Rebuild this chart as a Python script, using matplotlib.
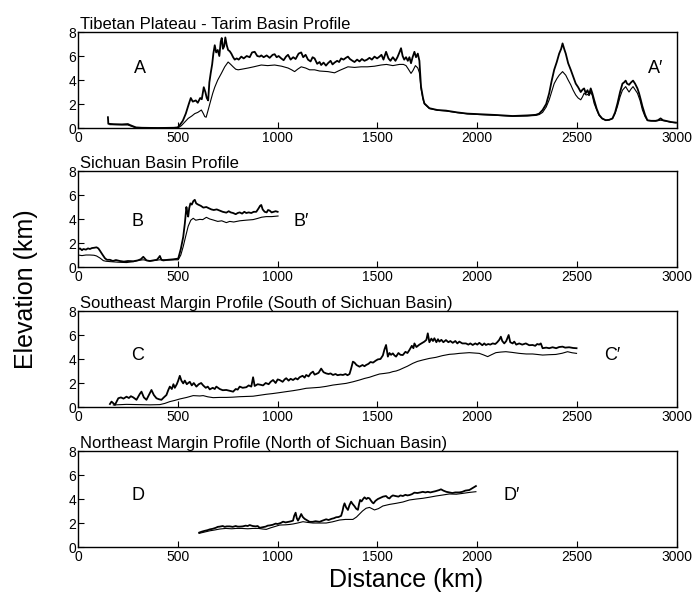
import matplotlib
matplotlib.use("Agg")
import matplotlib.pyplot as plt

plt.rcParams['font.family'] = ['Liberation Sans', 'DejaVu Sans']

# Profile A-A' (Tibetan Plateau - Tarim Basin)
a_max_dist = [150, 152, 180, 220, 250, 260, 275, 290, 320, 400, 480, 500, 510, 525, 540, 555,
              565, 575, 590, 600, 612, 620, 630, 638, 645, 652, 658, 665, 672, 678, 685, 692,
              700, 708, 715, 720, 726, 732, 738, 745, 752, 760, 768, 777, 785, 795, 805, 818,
              830, 845, 860, 872, 885, 898, 910, 918, 930, 945, 960, 975, 985, 995, 1005, 1018,
              1030, 1042, 1052, 1065, 1078, 1090, 1105, 1118, 1128, 1140, 1152, 1165, 1175, 1185,
              1198, 1210, 1218, 1230, 1242, 1252, 1265, 1275, 1285, 1298, 1308, 1318, 1330, 1342,
              1352, 1362, 1375, 1385, 1398, 1410, 1422, 1435, 1448, 1460, 1472, 1485, 1498, 1510,
              1520, 1530, 1543, 1555, 1565, 1577, 1590, 1600, 1610, 1618, 1626, 1634, 1643, 1652,
              1660, 1668, 1676, 1685, 1693, 1702, 1710, 1718, 1728, 1735, 1760, 1800, 1843, 1900,
              1950, 2010, 2100, 2177, 2250, 2293, 2310, 2327, 2345, 2360, 2372, 2385, 2398, 2410,
              2420, 2427, 2435, 2443, 2455, 2468, 2480, 2493, 2505, 2518, 2527, 2535, 2543, 2552,
              2560, 2568, 2576, 2585, 2598, 2610, 2625, 2643, 2660, 2677, 2690, 2702, 2715, 2727,
              2735, 2743, 2750, 2760, 2770, 2780, 2790, 2802, 2810, 2818, 2827, 2840, 2852, 2870,
              2893, 2905, 2918, 2930, 2943, 2970, 2995]
a_max_elev = [0.9, 0.35, 0.32, 0.3, 0.33, 0.25, 0.15, 0.05, 0.02, 0.0, 0.02, 0.05, 0.25, 0.6, 1.2, 2.0,
              2.5, 2.2, 2.3, 2.1, 2.5, 2.4, 3.4, 3.0, 2.5, 2.3, 3.8, 4.6, 5.3, 6.2, 6.9, 6.3,
              6.5, 6.0, 7.2, 7.5, 6.6, 6.8, 7.55, 6.9, 6.5, 6.4, 6.2, 5.9, 5.7, 5.8, 5.7, 5.95,
              5.8, 6.0, 5.9, 6.3, 6.35, 6.0, 5.95, 6.05, 5.9, 6.05, 5.85, 6.1, 6.15, 5.9, 6.0, 5.8,
              5.65, 5.95, 6.1, 5.7, 5.9, 5.75, 6.2, 6.3, 5.9, 6.1, 5.7, 5.55, 5.9, 5.8,
              5.35, 5.5, 5.25, 5.45, 5.2, 5.4, 5.6, 5.3, 5.45, 5.6, 5.5, 5.8, 5.7, 5.85,
              5.95, 5.75, 5.6, 5.5, 5.7, 5.55, 5.75, 5.6, 5.7, 5.85, 5.7, 5.95, 5.8, 5.95,
              6.1, 5.7, 6.35, 5.8, 5.6, 5.9, 5.6, 5.9, 6.3, 6.65, 6.0, 5.7, 5.9, 5.6,
              5.9, 5.4, 5.9, 6.35, 5.9, 6.2, 5.6, 3.45, 2.5, 2.05, 1.65, 1.5, 1.45, 1.3,
              1.2, 1.15, 1.08, 1.0, 1.05, 1.1, 1.2, 1.5, 2.0, 2.9, 3.9, 4.85, 5.5, 6.2,
              6.6, 7.05, 6.6, 6.2, 5.4, 4.85, 4.3, 3.7, 3.4, 3.0, 3.2, 3.3, 2.9, 3.15,
              2.8, 3.3, 2.9, 2.35, 1.6, 1.1, 0.8, 0.65, 0.68, 0.8, 1.3, 2.05, 3.0, 3.7,
              3.8, 3.95, 3.7, 3.6, 3.8, 3.95, 3.7, 3.3, 2.9, 2.4, 1.8, 1.1, 0.65, 0.6,
              0.6, 0.65, 0.8, 0.65, 0.6, 0.5, 0.45]
a_mean_dist = [160, 250, 280, 300, 500, 518, 535, 552, 570, 585, 600, 618, 628, 635, 642, 652,
               665, 675, 685, 700, 718, 735, 752, 765, 777, 790, 802, 820, 852, 880, 918, 950,
               985, 1020, 1052, 1070, 1085, 1100, 1118, 1140, 1160, 1185, 1210, 1252, 1285, 1310,
               1352, 1385, 1418, 1450, 1485, 1518, 1545, 1577, 1610, 1630, 1643, 1655, 1668, 1678,
               1690, 1702, 1710, 1718, 1728, 1735, 1760, 1800, 1843, 1900, 1950, 2010, 2100, 2177,
               2250, 2293, 2310, 2327, 2345, 2360, 2372, 2385, 2398, 2410, 2427, 2443, 2455, 2468,
               2480, 2493, 2505, 2518, 2527, 2535, 2545, 2552, 2560, 2568, 2576, 2585, 2598, 2610,
               2625, 2643, 2660, 2677, 2690, 2702, 2715, 2727, 2743, 2752, 2760, 2770, 2780, 2790,
               2802, 2815, 2827, 2840, 2852, 2893, 2918, 2943, 2970, 2995]
a_mean_elev = [0.28, 0.25, 0.08, 0.0, 0.0, 0.2, 0.5, 0.8, 1.0, 1.2, 1.3, 1.5, 1.2, 0.95, 0.9, 1.5,
               2.3, 2.9, 3.4, 4.0, 4.55, 5.1, 5.5, 5.3, 5.1, 4.9, 4.85, 4.9, 5.0, 5.1, 5.25, 5.2,
               5.25, 5.15, 5.0, 4.85, 4.7, 4.9, 5.1, 5.0, 4.85, 4.85, 4.75, 4.7, 4.6, 4.8,
               5.1, 5.05, 5.1, 5.1, 5.15, 5.25, 5.3, 5.2, 5.3, 5.3, 5.2, 4.9, 4.55, 4.8,
               5.2, 5.0, 4.6, 3.3, 2.4, 2.0, 1.62, 1.48, 1.42, 1.28, 1.18, 1.12, 1.05, 0.98,
               1.0, 1.05, 1.12, 1.3, 1.75, 2.35, 3.0, 3.7, 4.1, 4.4, 4.7, 4.4, 4.0, 3.6,
               3.15, 2.75, 2.5, 2.35, 2.6, 2.9, 2.75, 2.8, 2.7, 3.0, 2.7, 2.05, 1.5, 1.05,
               0.78, 0.65, 0.67, 0.78, 1.2, 1.8, 2.6, 3.15, 3.45, 3.2, 3.0, 3.25, 3.45, 3.2,
               2.9, 2.3, 1.5, 0.95, 0.62, 0.58, 0.65, 0.58, 0.48, 0.43]

# Profile B-B' (Sichuan Basin)
b_max_dist = [0, 10, 20, 27, 40, 50, 60, 70, 80, 93, 102, 110, 120, 135, 145, 160, 175, 190, 210,
              230, 250, 277, 300, 315, 327, 335, 343, 360, 377, 395, 405, 410, 418, 427, 450, 477,
              502, 515, 527, 535, 543, 548, 552, 557, 563, 570, 578, 585, 592, 602, 615, 628, 643,
              655, 668, 680, 695, 710, 725, 743, 755, 765, 777, 790, 800, 810, 822, 833, 843, 855,
              868, 880, 893, 905, 912, 918, 925, 935, 945, 952, 960, 970, 980, 990, 1000]
b_max_elev = [1.47, 1.55, 1.4, 1.5, 1.45, 1.55, 1.5, 1.58, 1.6, 1.64, 1.55, 1.36, 1.1, 0.73, 0.6, 0.6,
              0.5, 0.58, 0.5, 0.45, 0.5, 0.48, 0.55, 0.65, 0.85, 0.7, 0.55, 0.5, 0.55, 0.6, 0.8, 0.92,
              0.6, 0.55, 0.6, 0.64, 0.7, 1.5, 2.5, 3.6, 5.0, 4.5, 4.2, 4.9, 5.3, 5.2, 5.5, 5.6, 5.3,
              5.2, 5.1, 4.95, 5.0, 4.9, 4.8, 4.75, 4.8, 4.7, 4.6, 4.53, 4.65, 4.55, 4.5, 4.4, 4.5,
              4.55, 4.45, 4.6, 4.5, 4.55, 4.5, 4.6, 4.6, 4.9, 5.1, 5.17, 4.8, 4.6, 4.55, 4.75, 4.7,
              4.55, 4.6, 4.65, 4.6]
b_mean_dist = [0, 20, 40, 60, 80, 93, 110, 127, 140, 160, 200, 243, 280, 300, 327, 360, 410, 450,
               480, 502, 515, 527, 540, 552, 565, 577, 590, 610, 625, 643, 660, 677, 700, 720, 743,
               760, 780, 810, 840, 877, 900, 920, 943, 970, 1002]
b_mean_elev = [1.0, 0.95, 1.0, 1.0, 0.98, 0.92, 0.75, 0.53, 0.48, 0.45, 0.4, 0.37, 0.45, 0.55, 0.6,
               0.5, 0.6, 0.58, 0.6, 0.6, 1.0, 1.7, 2.6, 3.4, 3.9, 4.06, 3.9, 3.97, 3.95, 4.14, 4.0,
               3.92, 3.8, 3.85, 3.7, 3.8, 3.75, 3.85, 3.9, 3.95, 4.05, 4.15, 4.2, 4.2, 4.25]

# Profile C-C' (Southeast margin)
c_max_dist = [160, 168, 178, 185, 195, 202, 215, 228, 243, 255, 265, 277, 285, 293, 303, 310, 318,
              330, 343, 355, 368, 380, 393, 405, 418, 430, 443, 452, 460, 470, 478, 485, 495, 502,
              510, 518, 527, 535, 545, 552, 560, 570, 580, 593, 605, 617, 627, 640, 650, 660, 675,
              685, 693, 710, 725, 743, 760, 777, 790, 800, 810, 825, 843, 855, 868, 877, 885, 900,
              915, 927, 940, 955, 965, 977, 990, 1000, 1010, 1025, 1035, 1043, 1055, 1065, 1077,
              1090, 1100, 1110, 1125, 1135, 1143, 1155, 1165, 1177, 1185, 1193, 1205, 1218, 1230,
              1243, 1255, 1265, 1277, 1290, 1300, 1315, 1327, 1340, 1350, 1360, 1368, 1377, 1385,
              1395, 1410, 1425, 1435, 1443, 1455, 1465, 1478, 1490, 1502, 1515, 1527, 1535, 1543,
              1552, 1560, 1568, 1577, 1585, 1593, 1605, 1615, 1627, 1640, 1650, 1660, 1672, 1680,
              1685, 1695, 1710, 1720, 1735, 1745, 1752, 1760, 1770, 1778, 1785, 1795, 1803, 1810,
              1820, 1830, 1843, 1855, 1865, 1877, 1890, 1900, 1910, 1925, 1943, 1955, 1965, 1977,
              1990, 2000, 2010, 2025, 2035, 2043, 2055, 2065, 2077, 2090, 2100, 2110, 2118, 2125,
              2135, 2145, 2150, 2157, 2165, 2177, 2185, 2195, 2210, 2225, 2243, 2260, 2277, 2290,
              2300, 2310, 2318, 2327, 2345, 2360, 2377, 2395, 2410, 2427, 2440, 2460, 2480, 2497]
c_max_elev = [0.25, 0.45, 0.3, 0.17, 0.5, 0.73, 0.8, 0.7, 0.86, 0.75, 0.9, 0.8, 0.7, 0.6, 0.9, 1.1,
              1.28, 0.8, 0.6, 1.0, 1.42, 1.0, 0.73, 0.65, 0.6, 0.8, 1.0, 1.4, 1.7, 1.5, 1.9, 1.6,
              1.9, 2.2, 2.6, 2.2, 1.97, 2.2, 1.9, 2.0, 2.1, 1.8, 2.0, 1.7, 1.9, 2.0, 1.8, 1.6, 1.7,
              1.47, 1.6, 1.5, 1.7, 1.5, 1.4, 1.42, 1.35, 1.28, 1.5, 1.45, 1.7, 1.6, 1.65, 1.8, 1.7,
              2.48, 1.75, 1.9, 1.85, 1.8, 2.0, 1.9, 2.1, 2.25, 2.0, 2.3, 2.25, 2.1, 2.3, 2.4, 2.2,
              2.35, 2.25, 2.4, 2.3, 2.48, 2.6, 2.45, 2.67, 2.55, 2.8, 2.95, 2.7, 2.75, 2.85, 3.2,
              2.9, 2.8, 2.75, 2.8, 2.67, 2.75, 2.65, 2.7, 2.67, 2.75, 2.65, 2.75, 3.2, 3.78, 3.7,
              3.5, 3.36, 3.5, 3.4, 3.5, 3.6, 3.75, 3.7, 3.85, 3.97, 4.0, 4.3, 4.8, 5.17, 4.2, 4.5,
              4.35, 4.47, 4.3, 4.2, 4.5, 4.35, 4.33, 4.6, 4.5, 4.75, 5.1, 4.9, 5.3, 5.0, 5.2, 5.3,
              5.45, 5.6, 6.14, 5.4, 5.7, 5.5, 5.73, 5.4, 5.65, 5.45, 5.6, 5.4, 5.58, 5.4, 5.5, 5.35,
              5.5, 5.3, 5.45, 5.3, 5.3, 5.2, 5.3, 5.17, 5.3, 5.2, 5.35, 5.15, 5.3, 5.17, 5.25, 5.2,
              5.3, 5.25, 5.4, 5.6, 5.86, 5.5, 5.3, 5.5, 5.7, 6.0, 5.4, 5.3, 5.45, 5.2, 5.3, 5.2,
              5.3, 5.15, 5.17, 5.1, 5.25, 5.2, 5.3, 4.9, 4.95, 4.9, 4.98, 4.9, 5.0, 5.03, 4.95,
              4.98, 4.92, 4.9]
c_mean_dist = [177, 243, 300, 360, 410, 435, 460, 485, 510, 545, 577, 610, 627, 650, 677, 710, 743,
               775, 810, 843, 877, 910, 943, 975, 1010, 1043, 1077, 1110, 1143, 1177, 1210, 1243,
               1277, 1310, 1343, 1377, 1410, 1435, 1460, 1485, 1510, 1535, 1560, 1577, 1593, 1610,
               1627, 1650, 1677, 1700, 1727, 1760, 1793, 1825, 1860, 1885, 1910, 1935, 1960, 1985,
               2010, 2030, 2052, 2070, 2093, 2118, 2143, 2175, 2210, 2245, 2277, 2300, 2327, 2360,
               2393, 2425, 2452, 2475, 2497]
c_mean_elev = [0.17, 0.22, 0.2, 0.18, 0.2, 0.3, 0.45, 0.55, 0.67, 0.8, 0.95, 0.92, 0.95, 0.85, 0.78,
               0.8, 0.8, 0.82, 0.86, 0.88, 0.9, 0.98, 1.06, 1.12, 1.2, 1.28, 1.36, 1.45, 1.56, 1.6,
               1.64, 1.72, 1.83, 1.9, 1.97, 2.1, 2.25, 2.38, 2.48, 2.62, 2.75, 2.8, 2.86, 2.95, 3.0,
               3.1, 3.23, 3.4, 3.64, 3.8, 3.92, 4.05, 4.14, 4.28, 4.39, 4.42, 4.47, 4.5, 4.53, 4.5,
               4.47, 4.35, 4.2, 4.35, 4.53, 4.58, 4.61, 4.55, 4.47, 4.42, 4.42, 4.38, 4.33, 4.36,
               4.38, 4.48, 4.61, 4.52, 4.47]

# Profile D-D' (Northeast margin)
d_max_dist = [607, 620, 635, 648, 660, 675, 690, 700, 710, 725, 735, 745, 760, 775, 790, 800, 810,
              825, 840, 850, 860, 875, 890, 900, 910, 925, 940, 950, 960, 975, 990, 1000, 1015,
              1027, 1040, 1055, 1068, 1077, 1083, 1090, 1096, 1102, 1110, 1118, 1126, 1135, 1145,
              1160, 1175, 1190, 1210, 1225, 1243, 1255, 1270, 1282, 1293, 1305, 1318, 1325, 1330,
              1335, 1343, 1352, 1360, 1368, 1375, 1385, 1393, 1402, 1408, 1413, 1420, 1428, 1435,
              1445, 1452, 1460, 1468, 1475, 1480, 1490, 1502, 1515, 1528, 1543, 1552, 1560, 1568,
              1577, 1590, 1605, 1615, 1627, 1640, 1650, 1660, 1672, 1685, 1700, 1715, 1727, 1740,
              1752, 1765, 1777, 1790, 1800, 1810, 1818, 1830, 1845, 1860, 1875, 1890, 1910, 1925,
              1940, 1960, 1975, 1985, 1993]
d_max_elev = [1.2, 1.28, 1.35, 1.4, 1.47, 1.52, 1.6, 1.68, 1.7, 1.75, 1.68, 1.72, 1.72, 1.68, 1.75,
              1.7, 1.7, 1.72, 1.78, 1.75, 1.83, 1.75, 1.72, 1.75, 1.6, 1.65, 1.7, 1.78, 1.8, 1.85,
              1.95, 1.92, 2.0, 2.11, 2.05, 2.1, 2.15, 2.2, 2.6, 2.86, 2.4, 2.2, 2.45, 2.75, 2.5,
              2.35, 2.25, 2.1, 2.1, 2.15, 2.1, 2.2, 2.31, 2.25, 2.35, 2.4, 2.48, 2.5, 2.6, 3.0, 3.4,
              3.64, 3.3, 3.09, 3.5, 3.78, 3.6, 3.4, 3.2, 3.1, 3.6, 3.92, 3.8, 4.0, 4.14, 4.0, 4.1,
              4.05, 3.85, 3.7, 3.64, 3.85, 4.0, 4.1, 4.2, 4.25, 4.1, 4.05, 4.2, 4.3, 4.25, 4.2, 4.3,
              4.25, 4.35, 4.3, 4.33, 4.4, 4.53, 4.5, 4.55, 4.6, 4.55, 4.6, 4.55, 4.6, 4.65, 4.7,
              4.75, 4.81, 4.7, 4.6, 4.55, 4.5, 4.55, 4.55, 4.6, 4.7, 4.75, 4.9, 5.0, 5.08]
d_mean_dist = [607, 635, 660, 685, 710, 740, 770, 793, 820, 850, 877, 905, 925, 943, 965, 985, 1010,
               1040, 1060, 1077, 1100, 1127, 1150, 1177, 1210, 1243, 1275, 1310, 1340, 1377, 1395,
               1410, 1425, 1443, 1460, 1472, 1485, 1505, 1527, 1560, 1593, 1627, 1660, 1695, 1727,
               1760, 1793, 1825, 1860, 1895, 1927, 1960, 1993]
d_mean_elev = [1.14, 1.25, 1.35, 1.42, 1.5, 1.55, 1.52, 1.55, 1.55, 1.52, 1.55, 1.55, 1.5, 1.47, 1.6,
               1.7, 1.83, 1.85, 1.88, 1.92, 2.0, 2.11, 2.05, 2.0, 2.0, 2.0, 2.1, 2.25, 2.3, 2.3, 2.5,
               2.75, 3.0, 3.23, 3.3, 3.2, 3.09, 3.2, 3.42, 3.55, 3.64, 3.75, 3.92, 4.0, 4.06, 4.15,
               4.25, 4.33, 4.42, 4.4, 4.47, 4.55, 4.61]

titles = ["Tibetan Plateau - Tarim Basin Profile",
          "Sichuan Basin Profile",
          "Southeast Margin Profile (South of Sichuan Basin)",
          "Northeast Margin Profile (North of Sichuan Basin)"]
start_labels = ["A", "B", "C", "D"]
end_labels = ["A\u2032", "B\u2032", "C\u2032", "D\u2032"]
start_pos = [(310, 5.0), (300, 3.8), (300, 4.3), (300, 4.3)]
end_pos = [(2895, 5.0), (1120, 3.8), (2677, 4.3), (2170, 4.3)]

profiles = [
    (a_max_dist, a_max_elev, a_mean_dist, a_mean_elev),
    (b_max_dist, b_max_elev, b_mean_dist, b_mean_elev),
    (c_max_dist, c_max_elev, c_mean_dist, c_mean_elev),
    (d_max_dist, d_max_elev, d_mean_dist, d_mean_elev),
]

fig = plt.figure(figsize=(7, 5.94), dpi=100)
bottoms = [0.7845, 0.5505, 0.3148, 0.0791]

for i, (mx_d, mx_e, mn_d, mn_e) in enumerate(profiles):
    ax = fig.add_axes([0.1114, bottoms[i], 0.8557, 0.1616])
    ax.plot(mx_d, mx_e, color="black", lw=1.3)
    ax.plot(mn_d, mn_e, color="black", lw=0.8)
    ax.set_xlim(0, 3000)
    ax.set_ylim(0, 8)
    ax.set_xticks([0, 500, 1000, 1500, 2000, 2500, 3000])
    ax.set_yticks([0, 2, 4, 6, 8])
    ax.tick_params(direction="in", length=4, labelsize=10, width=0.8)
    ax.tick_params(axis="x", pad=2.5)
    ax.tick_params(axis="y", pad=1.5)
    # y "0" sits a touch higher so it clears the x "0"
    ax.get_yticklabels()[0].set_verticalalignment("center_baseline")
    for s in ax.spines.values():
        s.set_linewidth(1.0)
    ax.set_title(titles[i], loc="left", fontsize=12, pad=2, x=0.003)
    ax.text(*start_pos[i], start_labels[i], fontsize=13, ha="center", va="center")
    ax.text(*end_pos[i], end_labels[i], fontsize=13, ha="center", va="center")

fig.text(0.037, 0.513, "Elevation (km)", rotation=90, fontsize=18, ha="center", va="center")
fig.text(0.58, 0.024, "Distance (km)", fontsize=18, ha="center", va="center")

fig.savefig("out.png", dpi=100)
